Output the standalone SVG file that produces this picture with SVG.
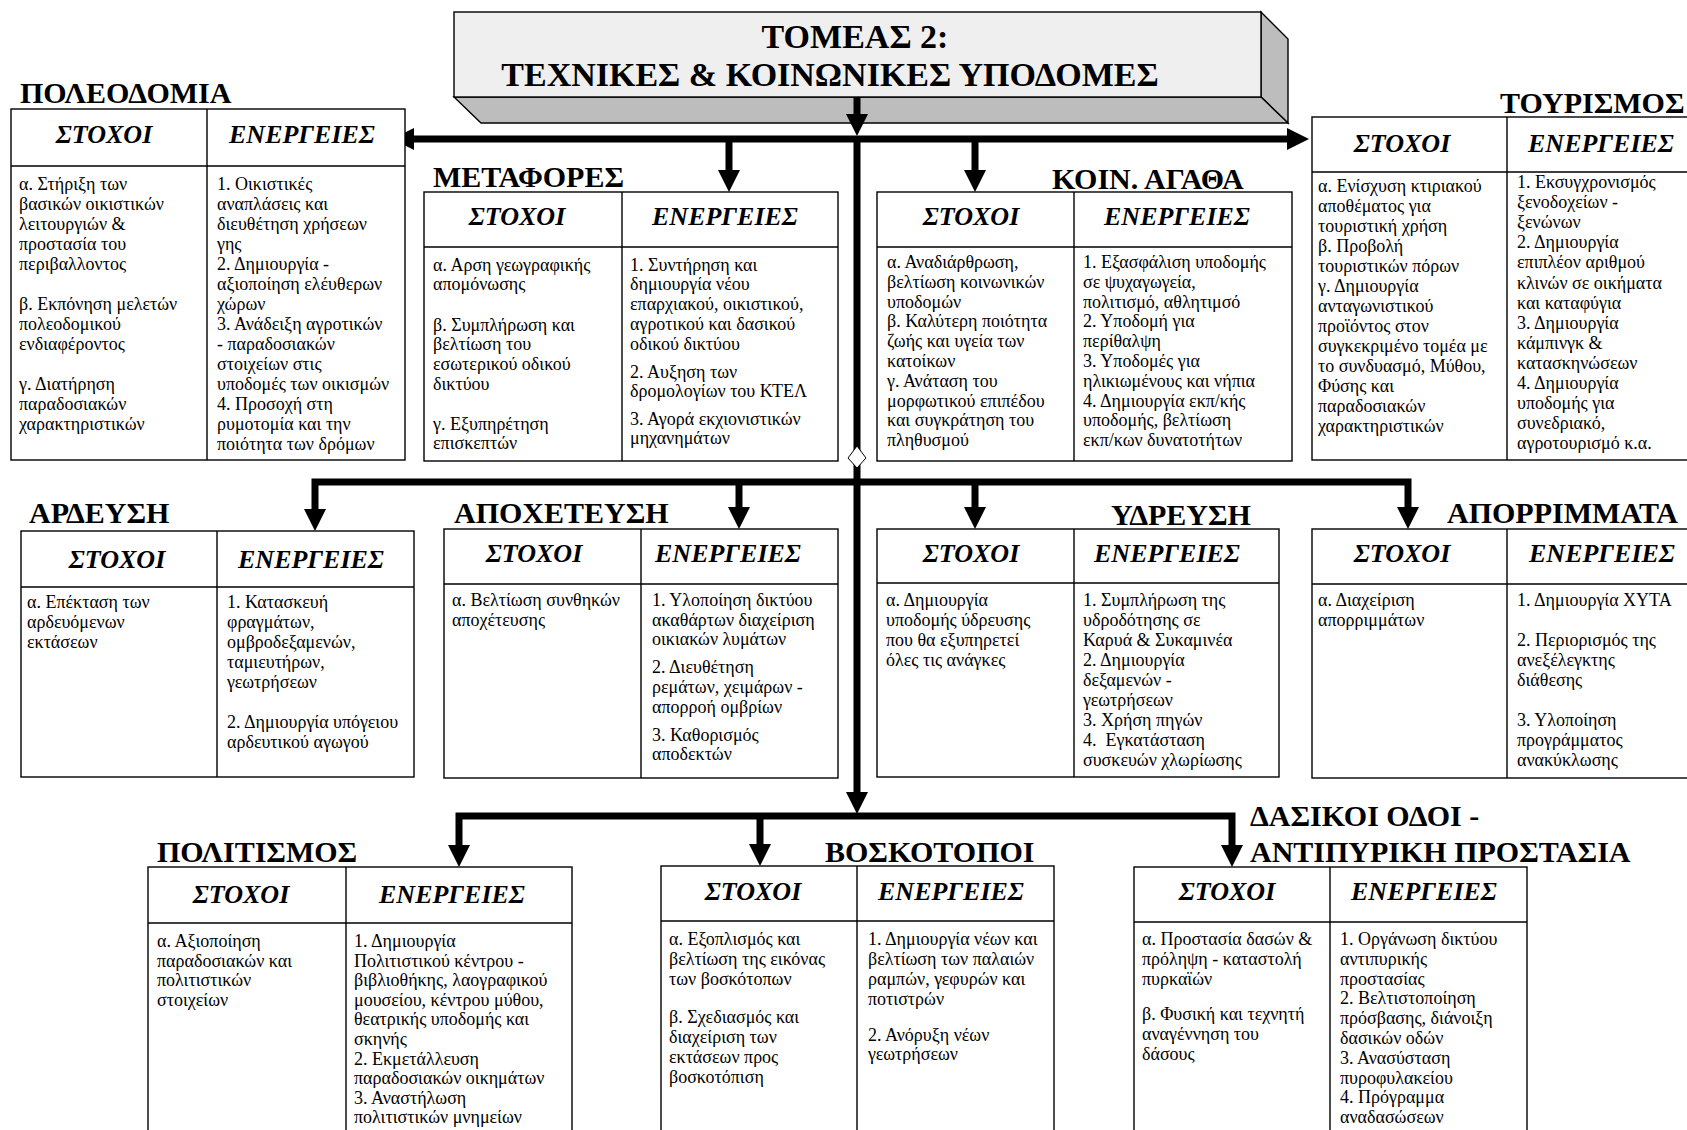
<svg xmlns="http://www.w3.org/2000/svg" width="1687" height="1130" viewBox="0 0 1687 1130">
<style>
.bx{fill:#fff;stroke:#000;stroke-width:1.4}
.dv{stroke:#000;stroke-width:1.4;fill:none}
.sec{font-family:"Liberation Serif","Times New Roman",serif;font-weight:bold;font-size:30px;fill:#000}
.hd{font-family:"Liberation Serif","Times New Roman",serif;font-weight:bold;font-style:italic;font-size:26px;text-anchor:middle;fill:#000}
.tx{font-family:"Liberation Serif","Times New Roman",serif;font-size:18px;fill:#000}
.ttl{font-family:"Liberation Serif","Times New Roman",serif;font-weight:bold;font-size:34px;text-anchor:middle;fill:#000}
.cn{fill:none;stroke:#000;stroke-width:7;stroke-linejoin:miter}
</style>
<defs>
<marker id="ah" markerUnits="userSpaceOnUse" markerWidth="22" markerHeight="22" viewBox="0 0 22 22" refX="2" refY="11" orient="auto-start-reverse">
<path d="M0,0 L22,11 L0,22 z" fill="#000"/>
</marker>
</defs>

<g id="title">
<polygon points="1261,12 1288,39 1288,123 1261,97" fill="#bdbdbd" stroke="#000" stroke-width="1.4"/>
<polygon points="454,97 1261,97 1288,123 481,123" fill="#bdbdbd" stroke="#000" stroke-width="1.4"/>
<rect x="454" y="12" width="807" height="85" fill="#efefef" stroke="#000" stroke-width="1.4"/>
<text class="ttl" x="855" y="48">ΤΟΜΕΑΣ 2:</text>
<text class="ttl" x="830" y="86">ΤΕΧΝΙΚΕΣ &amp; ΚΟΙΝΩΝΙΚΕΣ ΥΠΟΔΟΜΕΣ</text>
</g>

<g id="connectors">
<path class="cn" d="M857,97 V116" marker-end="url(#ah)"/>
<path class="cn" d="M412,139 H1289" marker-start="url(#ah)" marker-end="url(#ah)"/>
<path class="cn" d="M729,139 V172" marker-end="url(#ah)"/>
<path class="cn" d="M975,139 V172" marker-end="url(#ah)"/>
<path class="cn" d="M857,139 V794" marker-end="url(#ah)"/>
<path class="cn" d="M315,511 V482 H1408 V509" marker-start="url(#ah)" marker-end="url(#ah)"/>
<path class="cn" d="M739,482 V509" marker-end="url(#ah)"/>
<path class="cn" d="M975,482 V509" marker-end="url(#ah)"/>
<path class="cn" d="M459,847 V816 H1232 V847" marker-start="url(#ah)" marker-end="url(#ah)"/>
<path class="cn" d="M760,816 V846" marker-end="url(#ah)"/>
<polygon points="857,446 866,458 857,468 848,458" fill="#fff" stroke="#000" stroke-width="1"/>
</g>

<g id="poleodomia">
<text class="sec" x="20" y="103">ΠΟΛΕΟΔΟΜΙΑ</text>
<rect class="bx" x="11" y="109" width="394" height="351"/>
<path class="dv" d="M11,166 H405 M207,109 V460"/>
<text class="hd" x="104" y="143">ΣΤΟΧΟΙ</text>
<text class="hd" x="302" y="143">ΕΝΕΡΓΕΙΕΣ</text>
<text class="tx">
<tspan x="19" y="190">α. Στήριξη των</tspan>
<tspan x="19" y="210">βασικών οικιστικών</tspan>
<tspan x="19" y="230">λειτουργιών &amp;</tspan>
<tspan x="19" y="250">προστασία του</tspan>
<tspan x="19" y="270">περιβαλλοντος</tspan>
<tspan x="19" y="310">β. Εκπόνηση μελετών</tspan>
<tspan x="19" y="330">πολεοδομικού</tspan>
<tspan x="19" y="350">ενδιαφέροντος</tspan>
<tspan x="19" y="390">γ. Διατήρηση</tspan>
<tspan x="19" y="410">παραδοσιακών</tspan>
<tspan x="19" y="430">χαρακτηριστικών</tspan>
</text>
<text class="tx">
<tspan x="217" y="190">1. Οικιστικές</tspan>
<tspan x="217" y="210">αναπλάσεις και</tspan>
<tspan x="217" y="230">διευθέτηση χρήσεων</tspan>
<tspan x="217" y="250">γης</tspan>
<tspan x="217" y="270">2. Δημιουργία -</tspan>
<tspan x="217" y="290">αξιοποίηση ελέυθερων</tspan>
<tspan x="217" y="310">χώρων</tspan>
<tspan x="217" y="330">3. Ανάδειξη αγροτικών</tspan>
<tspan x="217" y="350">- παραδοσιακών</tspan>
<tspan x="217" y="370">στοιχείων στις</tspan>
<tspan x="217" y="390">υποδομές των οικισμών</tspan>
<tspan x="217" y="410">4. Προσοχή στη</tspan>
<tspan x="217" y="430">ρυμοτομία και την</tspan>
<tspan x="217" y="450">ποιότητα των δρόμων</tspan>
</text>
</g>

<g id="metafores">
<text class="sec" x="433" y="187">ΜΕΤΑΦΟΡΕΣ</text>
<rect class="bx" x="424" y="192" width="414" height="269"/>
<path class="dv" d="M424,247 H838 M622,192 V461"/>
<text class="hd" x="517" y="225">ΣΤΟΧΟΙ</text>
<text class="hd" x="725" y="225">ΕΝΕΡΓΕΙΕΣ</text>
<text class="tx">
<tspan x="433" y="271">α. Αρση γεωγραφικής</tspan>
<tspan x="433" y="290">απομόνωσης</tspan>
<tspan x="433" y="331">β. Συμπλήρωση και</tspan>
<tspan x="433" y="350">βελτίωση του</tspan>
<tspan x="433" y="370">εσωτερικού οδικού</tspan>
<tspan x="433" y="390">δικτύου</tspan>
<tspan x="433" y="430">γ. Εξυπηρέτηση</tspan>
<tspan x="433" y="449">επισκεπτών</tspan>
</text>
<text class="tx">
<tspan x="630" y="271">1. Συντήρηση και</tspan>
<tspan x="630" y="290">δημιουργία νέου</tspan>
<tspan x="630" y="310">επαρχιακού, οικιστικού,</tspan>
<tspan x="630" y="330">αγροτικού και δασικού</tspan>
<tspan x="630" y="350">οδικού δικτύου</tspan>
<tspan x="630" y="378">2. Αυξηση των</tspan>
<tspan x="630" y="397">δρομολογίων του ΚΤΕΛ</tspan>
<tspan x="630" y="425">3. Αγορά εκχιονιστικών</tspan>
<tspan x="630" y="444">μηχανημάτων</tspan>
</text>
</g>

<g id="koin-agatha">
<text class="sec" x="1052" y="189">ΚΟΙΝ. ΑΓΑΘΑ</text>
<rect class="bx" x="877" y="192" width="415" height="269"/>
<path class="dv" d="M877,247 H1292 M1074,192 V461"/>
<text class="hd" x="971" y="225">ΣΤΟΧΟΙ</text>
<text class="hd" x="1177" y="225">ΕΝΕΡΓΕΙΕΣ</text>
<text class="tx">
<tspan x="887" y="268">α. Αναδιάρθρωση,</tspan>
<tspan x="887" y="288">βελτίωση κοινωνικών</tspan>
<tspan x="887" y="308">υποδομών</tspan>
<tspan x="887" y="327">β. Καλύτερη ποιότητα</tspan>
<tspan x="887" y="347">ζωής και υγεία των</tspan>
<tspan x="887" y="367">κατοίκων</tspan>
<tspan x="887" y="387">γ. Ανάταση του</tspan>
<tspan x="887" y="407">μορφωτικού επιπέδου</tspan>
<tspan x="887" y="426">και συγκράτηση του</tspan>
<tspan x="887" y="446">πληθυσμού</tspan>
</text>
<text class="tx">
<tspan x="1083" y="268">1. Εξασφάλιση υποδομής</tspan>
<tspan x="1083" y="288">σε ψυχαγωγεία,</tspan>
<tspan x="1083" y="308">πολιτισμό, αθλητιμσό</tspan>
<tspan x="1083" y="327">2. Υποδομή για</tspan>
<tspan x="1083" y="347">περίθαλψη</tspan>
<tspan x="1083" y="367">3. Υποδομές για</tspan>
<tspan x="1083" y="387">ηλικιωμένους και νήπια</tspan>
<tspan x="1083" y="407">4. Δημιουργία εκπ/κής</tspan>
<tspan x="1083" y="426">υποδομής, βελτίωση</tspan>
<tspan x="1083" y="446">εκπ/κων δυνατοτήτων</tspan>
</text>
</g>

<g id="tourismos">
<text class="sec" x="1500" y="113">ΤΟΥΡΙΣΜΟΣ</text>
<rect class="bx" x="1312" y="117" width="400" height="343"/>
<path class="dv" d="M1312,172 H1712 M1507,117 V460"/>
<text class="hd" x="1402" y="152">ΣΤΟΧΟΙ</text>
<text class="hd" x="1601" y="152">ΕΝΕΡΓΕΙΕΣ</text>
<text class="tx">
<tspan x="1318" y="192">α. Ενίσχυση κτιριακού</tspan>
<tspan x="1318" y="212">αποθέματος για</tspan>
<tspan x="1318" y="232">τουριστική χρήση</tspan>
<tspan x="1318" y="252">β. Προβολή</tspan>
<tspan x="1318" y="272">τουριστικών πόρων</tspan>
<tspan x="1318" y="292">γ. Δημιουργία</tspan>
<tspan x="1318" y="312">ανταγωνιστικού</tspan>
<tspan x="1318" y="332">προϊόντος στον</tspan>
<tspan x="1318" y="352">συγκεκριμένο τομέα με</tspan>
<tspan x="1318" y="372">το συνδυασμό, Μύθου,</tspan>
<tspan x="1318" y="392">Φύσης και</tspan>
<tspan x="1318" y="412">παραδοσιακών</tspan>
<tspan x="1318" y="432">χαρακτηριστικών</tspan>
</text>
<text class="tx">
<tspan x="1517" y="188">1. Εκσυγχρονισμός</tspan>
<tspan x="1517" y="208">ξενοδοχείων -</tspan>
<tspan x="1517" y="228">ξενώνων</tspan>
<tspan x="1517" y="248">2. Δημιουργία</tspan>
<tspan x="1517" y="268">επιπλέον αριθμού</tspan>
<tspan x="1517" y="289">κλινών σε οικήματα</tspan>
<tspan x="1517" y="309">και καταφύγια</tspan>
<tspan x="1517" y="329">3. Δημιουργία</tspan>
<tspan x="1517" y="349">κάμπινγκ &amp;</tspan>
<tspan x="1517" y="369">κατασκηνώσεων</tspan>
<tspan x="1517" y="389">4. Δημιουργία</tspan>
<tspan x="1517" y="409">υποδομής για</tspan>
<tspan x="1517" y="429">συνεδριακό,</tspan>
<tspan x="1517" y="449">αγροτουρισμό κ.α.</tspan>
</text>
</g>

<g id="ardeusi">
<text class="sec" x="29" y="523">ΑΡΔΕΥΣΗ</text>
<rect class="bx" x="21" y="531" width="393" height="246"/>
<path class="dv" d="M21,587 H414 M217,531 V777"/>
<text class="hd" x="117" y="568">ΣΤΟΧΟΙ</text>
<text class="hd" x="311" y="568">ΕΝΕΡΓΕΙΕΣ</text>
<text class="tx">
<tspan x="27" y="608">α. Επέκταση των</tspan>
<tspan x="27" y="628">αρδευόμενων</tspan>
<tspan x="27" y="648">εκτάσεων</tspan>
</text>
<text class="tx">
<tspan x="227" y="608">1. Κατασκευή</tspan>
<tspan x="227" y="628">φραγμάτων,</tspan>
<tspan x="227" y="648">ομβροδεξαμενών,</tspan>
<tspan x="227" y="668">ταμιευτήρων,</tspan>
<tspan x="227" y="688">γεωτρήσεων</tspan>
<tspan x="227" y="728">2. Δημιουργία υπόγειου</tspan>
<tspan x="227" y="748">αρδευτικού αγωγού</tspan>
</text>
</g>

<g id="apoxeteusi">
<text class="sec" x="454" y="523">ΑΠΟΧΕΤΕΥΣΗ</text>
<rect class="bx" x="444" y="529" width="394" height="249"/>
<path class="dv" d="M444,584 H838 M641,529 V778"/>
<text class="hd" x="534" y="562">ΣΤΟΧΟΙ</text>
<text class="hd" x="728" y="562">ΕΝΕΡΓΕΙΕΣ</text>
<text class="tx">
<tspan x="452" y="606">α. Βελτίωση συνθηκών</tspan>
<tspan x="452" y="626">αποχέτευσης</tspan>
</text>
<text class="tx">
<tspan x="652" y="606">1. Υλοποίηση δικτύου</tspan>
<tspan x="652" y="626">ακαθάρτων διαχείριση</tspan>
<tspan x="652" y="645">οικιακών λυμάτων</tspan>
<tspan x="652" y="673">2. Διευθέτηση</tspan>
<tspan x="652" y="693">ρεμάτων, χειμάρων -</tspan>
<tspan x="652" y="713">απορροή ομβρίων</tspan>
<tspan x="652" y="741">3. Καθορισμός</tspan>
<tspan x="652" y="760">αποδεκτών</tspan>
</text>
</g>

<g id="ydreusi">
<text class="sec" x="1111" y="525">ΥΔΡΕΥΣΗ</text>
<rect class="bx" x="877" y="529" width="402" height="248"/>
<path class="dv" d="M877,583 H1279 M1074,529 V777"/>
<text class="hd" x="971" y="562">ΣΤΟΧΟΙ</text>
<text class="hd" x="1167" y="562">ΕΝΕΡΓΕΙΕΣ</text>
<text class="tx">
<tspan x="886" y="606">α. Δημιουργία</tspan>
<tspan x="886" y="626">υποδομής ύδρευσης</tspan>
<tspan x="886" y="646">που θα εξυπηρετεί</tspan>
<tspan x="886" y="666">όλες τις ανάγκες</tspan>
</text>
<text class="tx">
<tspan x="1083" y="606">1. Συμπλήρωση της</tspan>
<tspan x="1083" y="626">υδροδότησης σε</tspan>
<tspan x="1083" y="646">Καρυά &amp; Συκαμινέα</tspan>
<tspan x="1083" y="666">2. Δημιουργία</tspan>
<tspan x="1083" y="686">δεξαμενών -</tspan>
<tspan x="1083" y="706">γεωτρήσεων</tspan>
<tspan x="1083" y="726">3. Χρήση πηγών</tspan>
<tspan x="1083" y="746" xml:space="preserve">4.  Εγκατάσταση</tspan>
<tspan x="1083" y="766">συσκευών χλωρίωσης</tspan>
</text>
</g>

<g id="aporrimmata">
<text class="sec" x="1447" y="523">ΑΠΟΡΡΙΜΜΑΤΑ</text>
<rect class="bx" x="1312" y="529" width="400" height="249"/>
<path class="dv" d="M1312,584 H1712 M1507,529 V778"/>
<text class="hd" x="1402" y="562">ΣΤΟΧΟΙ</text>
<text class="hd" x="1602" y="562">ΕΝΕΡΓΕΙΕΣ</text>
<text class="tx">
<tspan x="1318" y="606">α. Διαχείριση</tspan>
<tspan x="1318" y="626">απορριμμάτων</tspan>
</text>
<text class="tx">
<tspan x="1517" y="606">1. Δημιουργία ΧΥΤΑ</tspan>
<tspan x="1517" y="646">2. Περιορισμός της</tspan>
<tspan x="1517" y="666">ανεξέλεγκτης</tspan>
<tspan x="1517" y="686">διάθεσης</tspan>
<tspan x="1517" y="726">3. Υλοποίηση</tspan>
<tspan x="1517" y="746">προγράμματος</tspan>
<tspan x="1517" y="766">ανακύκλωσης</tspan>
</text>
</g>

<g id="politismos">
<text class="sec" x="157" y="862">ΠΟΛΙΤΙΣΜΟΣ</text>
<rect class="bx" x="148" y="867" width="424" height="280"/>
<path class="dv" d="M148,923 H572 M346,867 V1147"/>
<text class="hd" x="241" y="903">ΣΤΟΧΟΙ</text>
<text class="hd" x="452" y="903">ΕΝΕΡΓΕΙΕΣ</text>
<text class="tx">
<tspan x="157" y="947">α. Αξιοποίηση</tspan>
<tspan x="157" y="967">παραδοσιακών και</tspan>
<tspan x="157" y="986">πολιτιστικών</tspan>
<tspan x="157" y="1006">στοιχείων</tspan>
</text>
<text class="tx">
<tspan x="354" y="947">1. Δημιουργία</tspan>
<tspan x="354" y="967">Πολιτιστικού κέντρου -</tspan>
<tspan x="354" y="986">βιβλιοθήκης, λαογραφικού</tspan>
<tspan x="354" y="1006">μουσείου, κέντρου μύθου,</tspan>
<tspan x="354" y="1025">θεατρικής υποδομής και</tspan>
<tspan x="354" y="1045">σκηνής</tspan>
<tspan x="354" y="1065">2. Εκμετάλλευση</tspan>
<tspan x="354" y="1084">παραδοσιακών οικημάτων</tspan>
<tspan x="354" y="1104">3. Αναστήλωση</tspan>
<tspan x="354" y="1123">πολιτιστικών μνημείων</tspan>
</text>
</g>

<g id="voskotopoi">
<text class="sec" x="825" y="862">ΒΟΣΚΟΤΟΠΟΙ</text>
<rect class="bx" x="661" y="866" width="393" height="281"/>
<path class="dv" d="M661,921 H1054 M857,866 V1147"/>
<text class="hd" x="753" y="900">ΣΤΟΧΟΙ</text>
<text class="hd" x="951" y="900">ΕΝΕΡΓΕΙΕΣ</text>
<text class="tx">
<tspan x="669" y="945">α. Εξοπλισμός και</tspan>
<tspan x="669" y="965">βελτίωση της εικόνας</tspan>
<tspan x="669" y="985">των βοσκότοπων</tspan>
<tspan x="669" y="1023">β. Σχεδιασμός και</tspan>
<tspan x="669" y="1043">διαχείριση των</tspan>
<tspan x="669" y="1063">εκτάσεων προς</tspan>
<tspan x="669" y="1083">βοσκοτόπιση</tspan>
</text>
<text class="tx">
<tspan x="868" y="945">1. Δημιουργία νέων και</tspan>
<tspan x="868" y="965">βελτίωση των παλαιών</tspan>
<tspan x="868" y="985">ραμπών, γεφυρών και</tspan>
<tspan x="868" y="1005">ποτιστρών</tspan>
<tspan x="868" y="1041">2. Ανόρυξη νέων</tspan>
<tspan x="868" y="1060">γεωτρήσεων</tspan>
</text>
</g>

<g id="dasikoi">
<text class="sec" x="1250" y="826">ΔΑΣΙΚΟΙ ΟΔΟΙ -</text>
<text class="sec" x="1250" y="862">ΑΝΤΙΠΥΡΙΚΗ ΠΡΟΣΤΑΣΙΑ</text>
<rect class="bx" x="1134" y="867" width="393" height="280"/>
<path class="dv" d="M1134,922 H1527 M1330,867 V1147"/>
<text class="hd" x="1227" y="900">ΣΤΟΧΟΙ</text>
<text class="hd" x="1424" y="900">ΕΝΕΡΓΕΙΕΣ</text>
<text class="tx">
<tspan x="1142" y="945">α. Προστασία δασών &amp;</tspan>
<tspan x="1142" y="965">πρόληψη - καταστολή</tspan>
<tspan x="1142" y="985">πυρκαϊών</tspan>
<tspan x="1142" y="1020">β. Φυσική και τεχνητή</tspan>
<tspan x="1142" y="1040">αναγέννηση του</tspan>
<tspan x="1142" y="1060">δάσους</tspan>
</text>
<text class="tx">
<tspan x="1340" y="945">1. Οργάνωση δικτύου</tspan>
<tspan x="1340" y="965">αντιπυρικής</tspan>
<tspan x="1340" y="985">προστασίας</tspan>
<tspan x="1340" y="1004">2. Βελτιστοποίηση</tspan>
<tspan x="1340" y="1024">πρόσβασης, διάνοιξη</tspan>
<tspan x="1340" y="1044">δασικών οδών</tspan>
<tspan x="1340" y="1064">3. Ανασύσταση</tspan>
<tspan x="1340" y="1084">πυροφυλακείου</tspan>
<tspan x="1340" y="1103">4. Πρόγραμμα</tspan>
<tspan x="1340" y="1123">αναδασώσεων</tspan>
</text>
</g>
</svg>
